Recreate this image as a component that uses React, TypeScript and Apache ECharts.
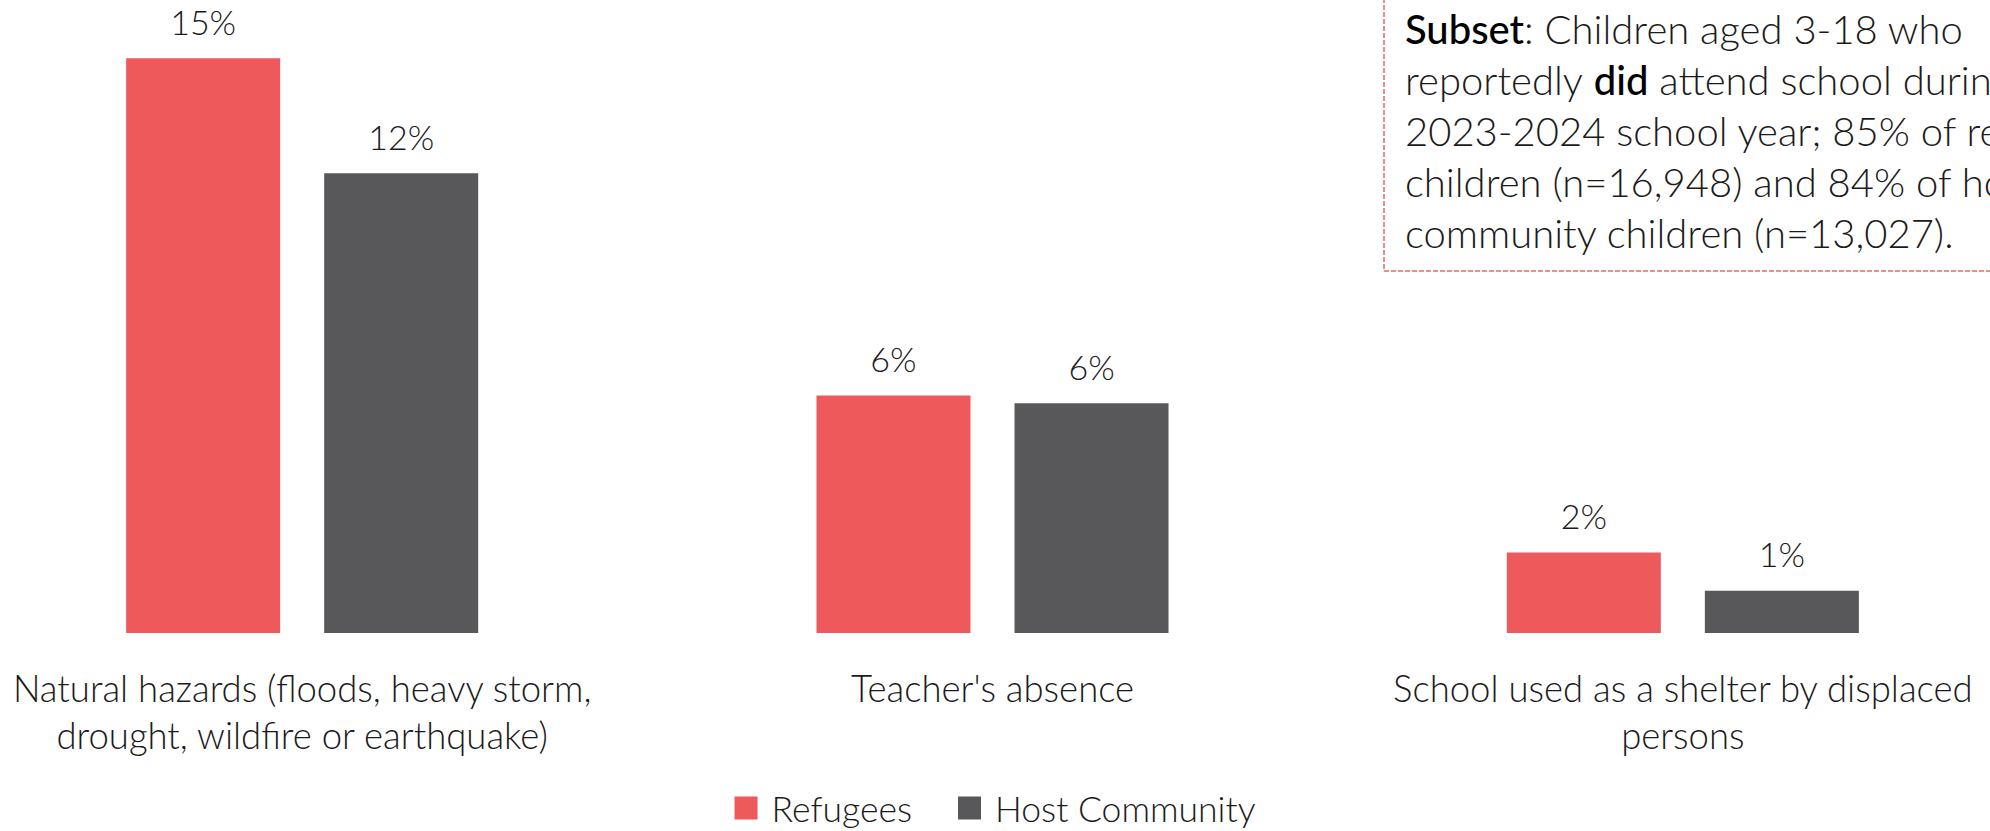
import React, { useEffect, useRef } from "react";
import * as echarts from "echarts";

const categories = [
  "Natural hazards (floods, heavy storm,\ndrought, wildfire or earthquake)",
  "Teacher's absence",
  "School used as a shelter by displaced\npersons",
];
const seriesNames = ["Refugees", "Host Community"];
const refugees = [15, 6.2, 2.1];
const hostCommunity = [12, 6.0, 1.1];

const subsetLines = [
  "{b|Subset}: Children aged 3-18 who",
  "reportedly {b|did} attend school during the",
  "2023-2024 school year; 85% of refugee",
  "children (n=16,948) and 84% of host",
  "community children (n=13,027).",
];

const RED = "#EE5A5B";
const GREY = "#58585A";
const TEXT = "#1b1b1b";
const FONT = "Lato, 'Open Sans', sans-serif";
const OFF = 100; // chart canvas starts 100px left of the visible page

export default function App() {
  const ref = useRef<HTMLDivElement>(null);
  useEffect(() => {
    if (!ref.current) return;
    const chart = echarts.init(ref.current, undefined, { renderer: "svg" });
    const label = {
      show: true,
      position: "top" as const,
      distance: 20,
      color: TEXT,
      fontFamily: FONT,
      fontWeight: 300 as any,
      fontSize: 34,
      formatter: (p: any) => Math.round(p.value) + "%",
    };
    chart.setOption({
      animation: false,
      backgroundColor: "#ffffff",
      textStyle: { fontFamily: FONT },
      grid: { left: OFF - 43, right: OFF - 38, top: 20, bottom: 198, containLabel: false },
      legend: {
        data: seriesNames,
        left: "center",
        top: 785,
        icon: "rect",
        itemWidth: 23,
        itemHeight: 23,
        itemGap: 46,
        textStyle: {
          fontFamily: FONT,
          fontWeight: 300,
          fontSize: 35.5,
          color: TEXT,
          padding: [0, 0, 0, 9],
          lineHeight: 36,
        },
      },
      xAxis: {
        type: "category",
        data: categories,
        axisLine: { show: false },
        axisTick: { show: false },
        axisLabel: {
          interval: 0,
          margin: 31,
          fontFamily: FONT,
          fontWeight: 300,
          fontSize: 36.5,
          lineHeight: 47,
          color: TEXT,
        },
      },
      yAxis: {
        type: "value",
        min: 0,
        max: 16,
        show: false,
        splitLine: { show: false },
      },
      series: [
        {
          name: seriesNames[0],
          type: "bar",
          data: refugees,
          barWidth: 154,
          barGap: "28.6%",
          itemStyle: { color: RED },
          label,
        },
        {
          name: seriesNames[1],
          type: "bar",
          data: hostCommunity,
          barWidth: 154,
          barGap: "28.6%",
          itemStyle: { color: GREY },
          label,
        },
      ],
      graphic: [
        {
          type: "rect",
          shape: { x: OFF + 1384, y: -10, width: 800, height: 281 },
          style: { fill: "transparent", stroke: "#EE6668", lineWidth: 1.5, lineDash: [5, 2] },
        },
        {
          type: "text",
          x: OFF + 1405,
          y: 3,
          style: {
            text: subsetLines.join("\n"),
            fill: TEXT,
            fontFamily: FONT,
            fontWeight: 300,
            fontSize: 40,
            lineHeight: 51,
            rich: {
              b: {
                fontFamily: FONT,
                fontWeight: 500,
                fontSize: 40,
                lineHeight: 51,
                fill: "#000",
              },
            },
          },
        },
      ],
    });
    return () => chart.dispose();
  }, []);
  return (
    <div
      style={{
        position: "fixed",
        left: 0,
        top: 0,
        width: 1990,
        height: 831,
        overflow: "hidden",
        background: "#fff",
      }}
    >
      <div
        ref={ref}
        style={{ position: "absolute", left: -OFF, top: 0, width: 1990 + 2 * OFF, height: 831 }}
      />
    </div>
  );
}
